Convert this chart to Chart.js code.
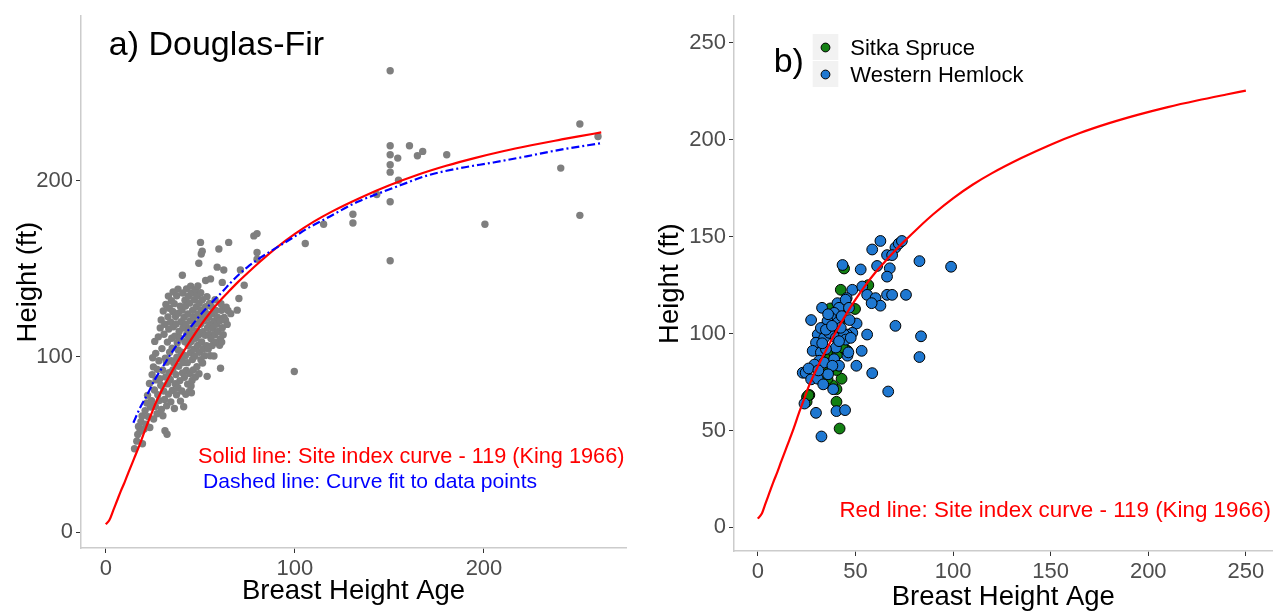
<!DOCTYPE html>
<html>
<head>
<meta charset="utf-8">
<title>Height over breast height age</title>
<script src="https://cdn.jsdelivr.net/npm/chart.js@4.4.1/dist/chart.umd.min.js"></script>
<style>
  body { margin: 0; background: #fff; }
  .panel { position: absolute; top: 0; height: 614px; }
  #panelA { left: 0; width: 640px; }
  #panelB { left: 640px; width: 639px; }
</style>
</head>
<body>
<div class="panel" id="panelA"><canvas id="chartA" width="640" height="614"></canvas></div>
<div class="panel" id="panelB"><canvas id="chartB" width="639" height="614"></canvas></div>
<script>
// site index curve 119 (King 1966): breast height age -> height (ft)
var siteAge    = [0, 2, 4, 6, 8, 10, 12, 15, 18, 21.3, 24, 26.4, 30, 35, 40, 45, 50, 55, 60, 65, 70, 75, 82, 90, 100, 110, 120, 135, 150, 165, 180, 195, 210, 225, 240, 250, 262];
var siteHeight = [4.5, 7, 12.5, 18, 23.5, 28.5, 34, 42, 50, 59.7, 67, 73.5, 81.5, 91.5, 100.8, 109.5, 117.5, 124.8, 131.3, 137, 142.5, 147.6, 154.4, 161.7, 169.8, 176.8, 182.8, 190.6, 197.5, 203.5, 208.6, 213, 216.9, 220.3, 223.4, 225.4, 227.6];

// curve fit to the Douglas-fir data
var fitAge    = [14.6, 18, 22, 26, 30.8, 35, 39.6, 44, 48.4, 52.8, 57.2, 62, 66, 70, 74.8, 80, 88.8, 99.4, 106.4, 117.2, 132.9, 143.4, 155.7, 169.8, 187.4, 205, 222.5, 240, 262];
var fitHeight = [62.3, 70.5, 78.4, 87, 95.3, 102.5, 109.4, 115.5, 121.6, 127, 132, 137.3, 142, 146.3, 150.8, 155, 161, 168, 172.8, 179, 188, 192.5, 197.5, 203, 207.3, 210.5, 214, 217.7, 221.5];

// Douglas-fir trees [age, height]
var douglasFir = [
  [15.2,47.5],[16.4,51.8],[16.9,55.6],[17.3,60.2],[18.1,57.4],[18.6,62.9],[19.4,50.3],[19.2,66.1],[20.3,58.7],
  [20.8,69.2],[21.2,61.4],[21.7,73.5],[22.4,65.8],[22.1,77.9],
  [23.3,59.6],[23.6,71.2],[23.1,84.6],[24.2,74.8],[24.5,89.7],[24.8,99.3],[25.3,64.4],[25.7,80.9],[25.2,94.1],
  [25.9,108.6],[26.2,71.6],[26.6,86.7],[26.4,101.8],[27.1,67.4],[27.5,78.3],[27.2,92.7],[27.8,111.2],[28.3,74.9],
  [28.6,87.4],[28.1,97.6],[28.8,116.3],[29.4,69.8],[29.1,83.6],[29.7,104.5],[29.3,120.8],
  [30.2,66.3],[30.6,80.4],[30.1,92.2],[30.8,112.7],[30.4,125.9],[31.3,57.8],[31.1,75.5],[31.7,88.3],[31.5,99.1],
  [31.2,118.4],[31.8,129.6],[32.4,55.7],[32.2,71.9],[32.7,84.4],[32.1,96.8],[32.6,108.2],[32.9,122.6],[33.2,78.6],
  [33.5,90.8],[33.8,102.4],[33.3,115.7],[33.6,127.5],[33.1,134.4],[34.4,74.2],[34.1,86.9],[34.6,97.6],[34.9,110.4],
  [34.3,119.6],[34.7,131.8],[35.2,80.7],[35.5,92.3],[35.1,104.8],[35.8,116.9],[35.4,125.6],[35.6,136.8],
  [36.3,70.4],[36.7,84.5],[36.1,96.3],[36.5,111.6],[36.9,122.8],[36.2,130.1],[37.4,78.2],[37.1,89.7],[37.6,99.6],
  [37.8,107.9],[37.2,118.5],[37.5,134.6],[38.1,82.4],[38.6,94.5],[38.3,103.7],[38.8,114.3],[38.4,124.7],[38.2,138.4],
  [39.5,74.6],[39.2,86.3],[39.7,98.4],[39.1,110.6],[39.9,119.8],[39.4,128.6],[40.2,80.4],[40.6,90.7],[40.1,102.5],
  [40.8,116.2],[40.3,126.4],[40.7,136.2],[40.5,146.3],[41.2,71.4],[41.6,88.2],[41.1,96.6],[41.8,108.4],[41.4,122.3],
  [41.9,132.1],[42.3,78.5],[42.6,92.1],[42.1,100.4],[42.8,112.6],[42.4,118.2],[42.2,128.7],[42.7,138.5],
  [43.3,84.3],[43.1,96.5],[43.6,106.1],[43.9,115.4],[43.4,124.2],[43.7,134.3],[44.2,80.1],[44.5,90.4],[44.8,102.2],
  [44.1,110.5],[44.6,120.3],[44.3,130.4],[44.9,140.1],[45.3,79.4],[45.1,83.2],[45.6,86.4],[45.8,98.3],[45.2,108.5],
  [45.5,116.1],[45.9,126.3],[45.4,136.2],[46.3,92.4],[46.7,104.1],[46.1,112.3],[46.5,122.5],[46.8,132.3],[47.4,88.3],
  [47.1,100.2],[47.6,110.4],[47.3,118.6],[47.8,128.2],[47.5,138.1],[48.2,94.2],[48.6,106.3],[48.3,114.5],[48.8,124.1],
  [48.4,134.5],[48.7,140.2],[49.3,90.2],[49.6,102.4],[49.1,112.2],[49.8,120.4],[49.4,130.3],[49.2,153.1],
  [50.3,98.2],[50.7,108.3],[50.1,118.4],[50.6,126.5],[50.2,136.3],[50.1,165.0],[50.5,158.4],[51.2,96.3],[51.6,104.4],
  [51.4,114.2],[51.8,122.3],[51.1,132.4],[51.0,160.0],[52.3,100.5],[52.6,112.1],[52.1,120.3],[52.8,128.4],[52.8,143.3],
  [53.6,88.7],[53.3,106.2],[53.8,116.4],[53.1,124.5],[53.5,134.1],[54.2,104.3],[54.7,112.5],[54.4,122.2],[54.9,130.2],
  [55.3,100.4],[55.6,110.2],[55.1,118.3],[55.8,128.5],[55.4,144.2],[56.3,106.3],[56.6,116.1],[56.1,124.4],[57.2,100.3],
  [57.6,112.4],[57.4,120.2],[57.8,132.3],[58.3,108.1],[58.6,118.4],[58.2,126.2],[59.4,114.3],[59.1,122.4],[58.9,150.9],
  [59.8,161.2],[60.7,93.3],[60.2,106.4],[60.6,110.2],[60.4,120.3],[60.9,130.1],[61.3,108.2],[61.6,116.4],[61.2,126.3],
  [62.1,112.4],[62.6,122.2],[61.6,142.2],[62.4,149.3],[63.3,120.7],[63.7,128.1],[64.2,118.3],[64.6,126.2],[65.0,165.0],
  [66.1,124.4],[69.5,126.4],[70.4,133.0],[71.2,149.3],[73.2,140.6],[78.3,168.7],[80.0,170.0],[80.0,159.3],[80.0,155.4],
  [99.7,91.5],[105.5,164.4],[115.2,175.3],[130.7,181],[130.7,176],[143.3,192.3],[150.4,154.5],[150.4,188.1],
  [150.4,205],[154.8,200.4],[150.4,209.2],[150.4,214.9],[154.4,213],[164.8,214.3],[167.6,216.8],[180.3,214.9],
  [150.4,220],[160.6,220],[150.4,262.7],[200.5,175.3],[240.6,207.3],[250.7,180.4],[250.7,232.4],[260.3,225.3]
];

// Sitka spruce and western hemlock trees [age, height]
var sitkaSpruce = [
  [41.9,51],[40.3,64.8],[25.2,67.3],[26.4,68.3],[25,64.8],[25.9,68.2],[40.3,71.3],[42.9,76.7],[38.2,73.3],
  [35.7,76.7],[40.3,81.2],[38.8,89.6],[40.8,89.4],[45.9,91.1],[44.4,92.2],[41.6,105.6],[39.9,109.9],[39.3,110],
  [49.8,112.7],[42.5,122.6],[56.6,125],[44.2,133.6],[37.2,113],[43.4,93],[36,80],[38.5,100],[34,88]
];
var westernHemlock = [
  [62.8,147.8],[58.6,143.4],[70.5,144.4],[72.2,146.4],[73.8,147.8],[66.2,140.5],[68.8,140.5],[61.1,134.9],
  [67.6,133.7],[66.2,129.4],[82.8,137.4],[99,134.5],[43.4,135.4],[52.7,133.1],[48.4,122.6],[53.5,124.3],
  [45.5,118.3],[56,120],[60.3,118.3],[62.8,114.4],[58.3,115.7],[66.2,120],[68.8,120],[75.9,120],[70.5,104],
  [56,99.5],[50.6,105.2],[48.4,100.4],[45.8,99.5],[32.9,113.3],[27.3,107],[40.8,115.7],[41.6,113.3],[39.1,110.7],
  [37.4,108.2],[35.7,106.5],[30.7,99.5],[29.8,95.3],[34,97.8],[36.6,100.4],[40,97.8],[44.2,99.5],[45,96.9],
  [32.3,102.9],[34.9,102],[40,92.8],[41.6,96.1],[45.9,88.6],[46.4,90.3],[53.2,91.1],[28.1,91.1],[32.3,90.3],
  [34.9,92],[31.5,86],[34,85.1],[39.1,86.8],[41.6,83.4],[38.2,83.4],[23,79.8],[24.5,79.8],[27.3,76.4],[30.7,76.7],
  [33.5,73.8],[50.5,83.4],[58.6,79.6],[66.8,70.1],[82.8,87.9],[83.6,98.6],[29.8,59.1],[32.6,46.9],[40.3,60],
  [44.7,60.5],[38.6,71.3],[23.9,63.9],[47.6,97.8],[40.8,105.6],[42.5,103],[45,117.5],[46.7,113.3],[36,110],
  [38,104],[33,95],[29,84],[26,82],[36,79],[31,81],[43,109],[47,107]
];

var ticksA = [0, 100, 200];
var ticksB = [0, 50, 100, 150, 200, 250];

var FONT = "'Liberation Sans', Arial, sans-serif";

function xy(ages, heights, maxAge) {
  var out = [];
  for (var i = 0; i < ages.length; i++) {
    if (maxAge === undefined || ages[i] <= maxAge) out.push({ x: ages[i], y: heights[i] });
  }
  return out;
}
function pairs(list) {
  return list.map(function (p) { return { x: p[0], y: p[1] }; });
}

function axis(min, max, ticks, title, size, titlePad) {
  return {
    type: 'linear', min: min, max: max,
    afterBuildTicks: function (s) { s.ticks = ticks.map(function (v) { return { value: v }; }); },
    afterFit: function (s) { if (s.isHorizontal()) s.height = size; else s.width = size; },
    grid: { drawOnChartArea: false, drawTicks: true, tickLength: 5, color: '#333333', lineWidth: 1 },
    border: { display: true, color: '#cccccc', width: 1.5 },
    ticks: { color: '#4d4d4d', font: { family: FONT, size: 22 }, padding: 3, maxRotation: 0, autoSkip: false },
    title: { display: true, text: title, color: '#000', font: { family: FONT, size: 27.5 }, padding: titlePad }
  };
}

// text placed at data coordinates
var notes = {
  id: 'notes',
  afterDatasetsDraw: function (chart, args, opts) {
    var ctx = chart.ctx, xs = chart.scales.x, ys = chart.scales.y;
    (opts.items || []).forEach(function (n) {
      ctx.save();
      ctx.font = n.size + 'px ' + FONT;
      ctx.fillStyle = n.color;
      ctx.textAlign = 'left';
      ctx.textBaseline = 'middle';
      ctx.fillText(n.text, xs.getPixelForValue(n.x), ys.getPixelForValue(n.y));
      ctx.restore();
    });
  }
};

// species key for panel b
var speciesKey = {
  id: 'speciesKey',
  afterDraw: function (chart, args, opts) {
    if (!opts.items) return;
    var ctx = chart.ctx;
    opts.items.forEach(function (it, i) {
      var top = opts.top + i * opts.row;
      ctx.save();
      ctx.fillStyle = '#f2f2f2';
      ctx.fillRect(opts.left, top, opts.box, opts.row - 1);
      ctx.beginPath();
      ctx.arc(opts.left + opts.box / 2, top + opts.row / 2, 4.4, 0, Math.PI * 2);
      ctx.fillStyle = it.color;
      ctx.fill();
      ctx.lineWidth = 1;
      ctx.strokeStyle = '#000';
      ctx.stroke();
      ctx.font = '22px ' + FONT;
      ctx.fillStyle = '#000';
      ctx.textBaseline = 'middle';
      ctx.fillText(it.label, opts.left + opts.box + 12, top + opts.row / 2 + 1);
      ctx.restore();
    });
  }
};

Chart.register(notes, speciesKey);

new Chart(document.getElementById('chartA'), {
  type: 'scatter',
  data: {
    datasets: [{
      label: 'Douglas-fir',
      data: pairs(douglasFir),
      pointRadius: 3.7,
      pointBackgroundColor: '#7f7f7f',
      pointBorderWidth: 0,
      order: 3
    }, {
      label: 'Site index curve',
      data: xy(siteAge, siteHeight),
      showLine: true, pointRadius: 0,
      borderColor: '#ff0000', borderWidth: 2.2,
      cubicInterpolationMode: 'monotone',
      order: 2
    }, {
      label: 'Curve fit',
      data: xy(fitAge, fitHeight),
      showLine: true, pointRadius: 0,
      borderColor: '#0000ff', borderWidth: 2.2,
      borderDash: [8, 3, 2, 3],
      cubicInterpolationMode: 'monotone',
      order: 1
    }]
  },
  options: {
    responsive: false,
    animation: false,
    events: [],
    layout: { padding: { top: 12, right: 14, left: 0, bottom: 0 } },
    scales: {
      x: axis(-13.1, 275.1, ticksA, 'Breast Height Age', 66, { top: 0, bottom: 6 }),
      y: axis(-9.04, 293.8, ticksA, 'Height (ft)', 81, { top: 12, bottom: 0 })
    },
    plugins: {
      legend: { display: false },
      tooltip: { enabled: false },
      notes: {
        items: [
          { text: 'a) Douglas-Fir', x: 1.6, y: 276.8, size: 34, color: '#000' },
          { text: 'Solid line: Site index curve - 119 (King 1966)', x: 48.8, y: 42.9, size: 21.7, color: '#ff0000' },
          { text: 'Dashed line: Curve fit to data points', x: 51.4, y: 28.4, size: 21.1, color: '#0000ff' }
        ]
      }
    }
  }
});

new Chart(document.getElementById('chartB'), {
  type: 'scatter',
  data: {
    datasets: [{
      label: 'Site index curve',
      data: xy(siteAge, siteHeight, 250),
      showLine: true, pointRadius: 0,
      borderColor: '#ff0000', borderWidth: 2.2,
      cubicInterpolationMode: 'monotone',
      order: 1
    }, {
      label: 'Western Hemlock',
      data: pairs(westernHemlock),
      pointRadius: 5.4,
      pointBackgroundColor: '#1f78d1',
      pointBorderColor: '#000',
      pointBorderWidth: 1,
      order: 2
    }, {
      label: 'Sitka Spruce',
      data: pairs(sitkaSpruce),
      pointRadius: 5.4,
      pointBackgroundColor: '#138013',
      pointBorderColor: '#000',
      pointBorderWidth: 1,
      order: 3
    }]
  },
  options: {
    responsive: false,
    animation: false,
    events: [],
    layout: { padding: { top: 10, right: 2, left: 0, bottom: 0 } },
    scales: {
      x: axis(-12.2, 263.7, ticksB, 'Breast Height Age', 63, { top: 0, bottom: 0 }),
      y: axis(-12.2, 263.8, ticksB, 'Height (ft)', 94, { top: 14, bottom: 0 })
    },
    plugins: {
      legend: { display: false },
      tooltip: { enabled: false },
      notes: {
        items: [
          { text: 'b)', x: 8.1, y: 239.8, size: 34, color: '#000' },
          { text: 'Red line: Site index curve - 119 (King 1966)', x: 41.8, y: 8.7, size: 22.4, color: '#ff0000' }
        ]
      },
      speciesKey: {
        left: 172.7, top: 34, row: 27, box: 25.6,
        items: [
          { label: 'Sitka Spruce', color: '#138013' },
          { label: 'Western Hemlock', color: '#1f78d1' }
        ]
      }
    }
  }
});
</script>
</body>
</html>
